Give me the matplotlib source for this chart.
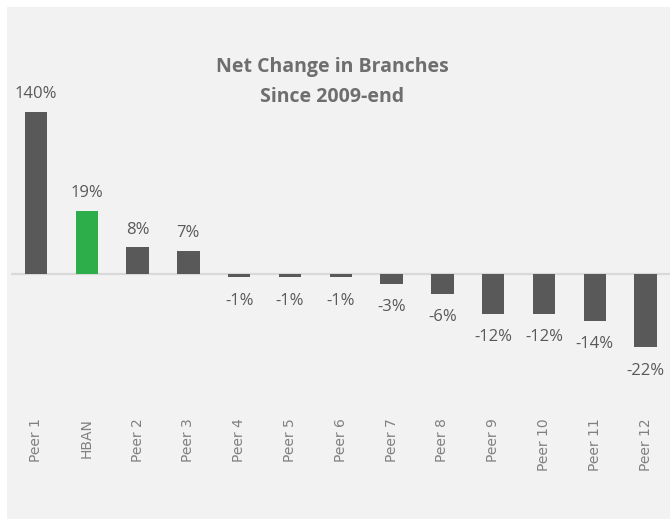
import matplotlib

matplotlib.use("Agg")

import matplotlib.pyplot as plt
from matplotlib.patches import Rectangle

categories = ["Peer 1", "HBAN", "Peer 2", "Peer 3", "Peer 4", "Peer 5", "Peer 6",
              "Peer 7", "Peer 8", "Peer 9", "Peer 10", "Peer 11", "Peer 12"]
net_change = [140, 19, 8, 7, -1, -1, -1, -3, -6, -12, -12, -14, -22]
highlight = "HBAN"

BAR_GRAY = "#595959"
HBAN_GREEN = "#2EAD4B"
PANEL = "#F2F2F2"
TEXT_GRAY = "#595959"
TITLE_GRAY = "#6E6E6E"
TICK_GRAY = "#808080"

W, H = 670, 519
fig = plt.figure(figsize=(W / 100, H / 100), dpi=100)
fig.patch.set_facecolor("white")
fig.patches.append(Rectangle((7 / W, 0), 1 - 7 / W, 1 - 7 / H,
                             transform=fig.transFigure, facecolor=PANEL,
                             edgecolor="none", zorder=-5))

# axis top sits where the tall bar gets cut off
ax = fig.add_axes([10.6 / W, 1 - 412 / H, (671 - 10.6) / W, 300 / H])
ax.set_zorder(2)
ax.patch.set_alpha(0)
ax.set_xlim(-0.5, len(categories) - 0.5)
ax.set_ylim(-41.4, 48.6)

x = range(len(categories))
colors = [HBAN_GREEN if c == highlight else BAR_GRAY for c in categories]
ax.bar(x, net_change, width=0.44, color=colors, zorder=3)
ax.axhline(0, color="#D9D9D9", linewidth=1.6, zorder=2)

top = ax.get_ylim()[1]
for i, v in enumerate(net_change):
    y = min(v, top)
    ax.annotate(f"{v}%", (i, y), xytext=(0, 7 if v > 0 else -11),
                textcoords="offset points", ha="center",
                va="bottom" if v > 0 else "top",
                fontsize=12, family="Open Sans", color=TEXT_GRAY,
                annotation_clip=False)

for spine in ax.spines.values():
    spine.set_visible(False)
ax.set_yticks([])
ax.set_xticks(list(x))
ax.set_xticklabels(categories, rotation=90, va="top", ha="center",
                   fontsize=10, color=TICK_GRAY)
ax.tick_params(axis="x", length=0, pad=4.5)

fig.text(332 / W, 1 - 82 / H, "Net Change in Branches\nSince 2009-end",
         ha="center", va="center", fontsize=14, fontweight="bold",
         family="Open Sans", color=TITLE_GRAY, linespacing=1.65)

fig.savefig("out.png", dpi=100, facecolor="white")
